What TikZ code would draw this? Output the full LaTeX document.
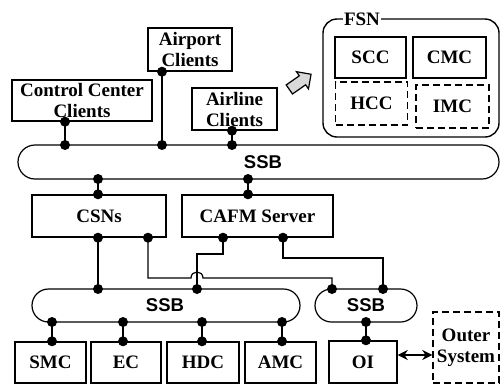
\documentclass[tikz,border=0pt]{standalone}
\usepackage{fontspec}
\setmainfont{Liberation Serif}
\setsansfont{Liberation Sans}
\usetikzlibrary{arrows.meta}
\begin{document}
\begin{tikzpicture}[x=1pt,y=-1pt,
  box/.style={draw,line width=1.4pt,inner sep=0pt,align=center,
    font=\bfseries\fontsize{19}{21}\selectfont},
  dbox/.style={box,dash pattern=on 7pt off 4pt},
  bus/.style={draw,line width=1.2pt},
  wire/.style={line width=1.2pt},
  jdot/.style={circle,fill=black,inner sep=0pt,minimum size=10pt},
  buslabel/.style={font=\sffamily\bfseries\fontsize{18.5}{21}\selectfont}]
\useasboundingbox (0,0) rectangle (501,384);

% client boxes
\node[box,minimum width=140pt,minimum height=41pt] (cc) at (82,100.5) {Control Center\\Clients};
\node[box,minimum width=84pt,minimum height=43pt] (ap) at (190,49.5) {Airport\\Clients};
\node[box,minimum width=85pt,minimum height=42pt] (al) at (234.5,109) {Airline\\Clients};

% FSN group
\node[draw,rounded corners=14pt,line width=1.4pt,minimum width=176pt,minimum height=118pt] (fsn) at (411,78) {};
\node[fill=white,inner sep=1pt,font=\bfseries\fontsize{19}{21}\selectfont] (fsnl) at (362,19) {FSN};
\node[box,minimum width=71pt,minimum height=41pt] (scc) at (370.5,57.5) {SCC};
\node[box,minimum width=73pt,minimum height=41pt] (cmc) at (449.5,57.5) {CMC};
\node[dbox,minimum width=72pt,minimum height=43pt] (hcc) at (371.5,103.5) {HCC};
\node[dbox,minimum width=73pt,minimum height=43pt] (imc) at (452.5,106.5) {IMC};

% block arrow pointing into the FSN group
\begin{scope}[shift={(300,82)},rotate=35]
  \draw[fill=gray!30,line width=1.2pt,line join=miter]
    (-13,-5.5) -- (3,-5.5) -- (3,-10.5) -- (13.5,0) -- (3,10.5) -- (3,5.5) -- (-13,5.5) -- cycle;
\end{scope}

% top bus
\draw[bus,rounded corners=17pt] (18,145) rectangle (499,179);
\node[buslabel] (ssbt) at (263,162) {SSB};

% servers
\node[box,minimum width=134pt,minimum height=42pt] (csn) at (99,216) {CSNs};
\node[box,minimum width=151pt,minimum height=42pt] (cafm) at (257.5,216) {CAFM Server};

% lower buses
\draw[bus,rounded corners=16.5pt] (32,289) rectangle (300,322);
\node[buslabel] (ssbl) at (165,305) {SSB};
\draw[bus,rounded corners=16.5pt] (315,289) rectangle (417,322);
\node[buslabel] (ssbs) at (366,305) {SSB};

% bottom boxes
\node[box,minimum width=71pt,minimum height=41pt] (smc) at (50.5,362.5) {SMC};
\node[box,minimum width=70pt,minimum height=41pt] (ec) at (126,362.5) {EC};
\node[box,minimum width=72pt,minimum height=41pt] (hdc) at (203,362.5) {HDC};
\node[box,minimum width=71pt,minimum height=41pt] (amc) at (280.5,362.5) {AMC};
\node[box,minimum width=68pt,minimum height=42pt] (oi) at (363,362) {OI};
\node[dbox,minimum width=66pt,minimum height=71pt] (outer) at (466,347.5) {Outer\\System};

% tap points on the buses
\coordinate (t1) at (65,145);
\coordinate (t2) at (162,145);
\coordinate (t3) at (232,145);
\coordinate (t4) at (98,179);
\coordinate (t5) at (248,179);
\coordinate (m1) at (98,289);
\coordinate (m2) at (197,289);
\coordinate (s1) at (332,289);
\coordinate (s2) at (383,289);
\coordinate (s3) at (366,322);
\coordinate (l1) at (52,322);
\coordinate (l2) at (123,322);
\coordinate (l3) at (202,322);
\coordinate (l4) at (282,322);
% bends of the server links
\coordinate (c2) at (148,278);
\coordinate (c3) at (223,254);
\coordinate (c4) at (283,258);

% straight links
\foreach \n/\t in {cc/t1,ap/t2,al/t3}{
  \draw[wire] (\n.south -| \t) -- (\t);
  \node[jdot] at (\n.south -| \t) {};
  \node[jdot] at (\t) {};
}
\foreach \n/\t in {csn/t4,cafm/t5,smc/l1,ec/l2,hdc/l3,amc/l4,oi/s3}{
  \draw[wire] (\n.north -| \t) -- (\t);
  \node[jdot] at (\n.north -| \t) {};
  \node[jdot] at (\t) {};
}
\draw[wire] (csn.south -| m1) -- (m1);
\node[jdot] at (csn.south -| m1) {};
\node[jdot] at (m1) {};

% CSNs to the small bus, hopping over the CAFM link
\draw[wire] (csn.south -| c2) -- (c2) -- (191,278) .. controls (191,270) and (203,270) .. (203,278)
  -- (s1 |- c2) -- (s1);
\node[jdot] at (csn.south -| c2) {};
\node[jdot] at (s1) {};

% CAFM Server links
\draw[wire] (cafm.south -| c3) -- (c3) -- (c3 -| m2) -- (m2);
\node[jdot] at (cafm.south -| c3) {};
\node[jdot] at (m2) {};
\draw[wire] (cafm.south -| c4) -- (c4) -- (c4 -| s2) -- (s2);
\node[jdot] at (cafm.south -| c4) {};
\node[jdot] at (s2) {};

% OI to outer system
\draw[line width=1.6pt,{Stealth[length=10pt,width=10pt]}-{Stealth[length=10pt,width=10pt]}]
  ([yshift=7pt]oi.east) -- ([yshift=7pt]oi.east -| outer.west);
\end{tikzpicture}
\end{document}
